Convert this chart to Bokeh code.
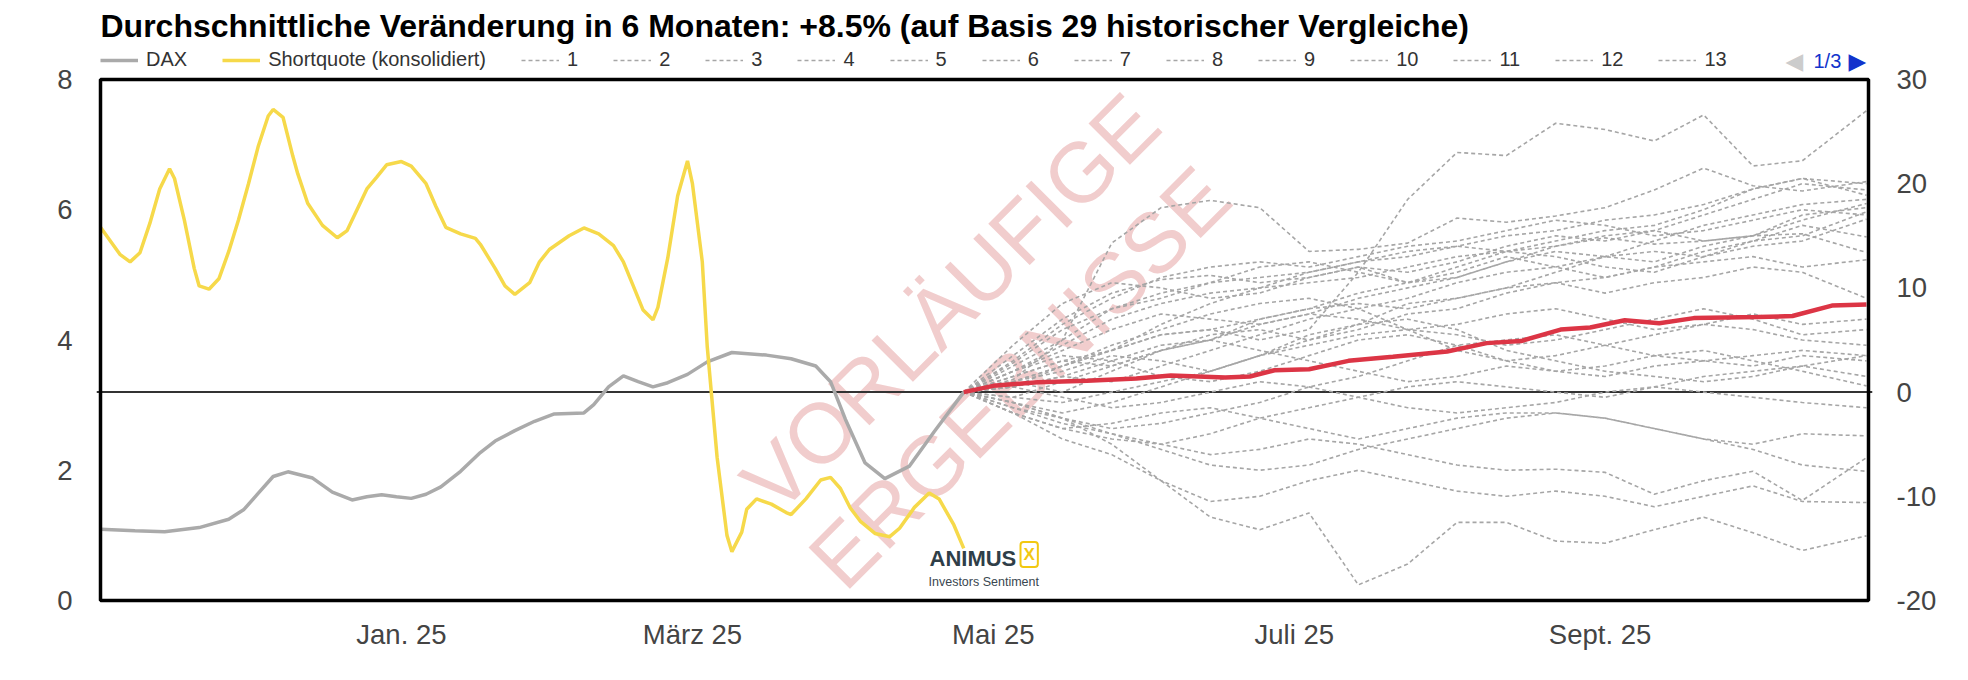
import pandas as pd
from bokeh.plotting import figure
from bokeh.models import (Range1d, LinearAxis, FixedTicker, Legend, LegendItem, Label,
                          Span, BoxAnnotation)
from bokeh.embed import file_html
from bokeh.resources import INLINE

title_text = "Durchschnittliche Veränderung in 6 Monaten: +8.5% (auf Basis 29 historischer Vergleiche)"

# Shortquote (konsolidiert) -- left axis
sq_dates = ["2024-11-01", "2024-11-03", "2024-11-05", "2024-11-07", "2024-11-09", "2024-11-11",
            "2024-11-13", "2024-11-15", "2024-11-16", "2024-11-18", "2024-11-20", "2024-11-21",
            "2024-11-23", "2024-11-25", "2024-11-27", "2024-11-29", "2024-12-01", "2024-12-03",
            "2024-12-05", "2024-12-06", "2024-12-08", "2024-12-10", "2024-12-11", "2024-12-13",
            "2024-12-16", "2024-12-19", "2024-12-21", "2024-12-23", "2024-12-25", "2024-12-27",
            "2024-12-29", "2025-01-01", "2025-01-03", "2025-01-06", "2025-01-08", "2025-01-10",
            "2025-01-13", "2025-01-16", "2025-01-17", "2025-01-20", "2025-01-22", "2025-01-24",
            "2025-01-27", "2025-01-29", "2025-01-31", "2025-02-04", "2025-02-07", "2025-02-10",
            "2025-02-13", "2025-02-15", "2025-02-17", "2025-02-19", "2025-02-21", "2025-02-22",
            "2025-02-24", "2025-02-26", "2025-02-28", "2025-03-01", "2025-03-03", "2025-03-04",
            "2025-03-06", "2025-03-08", "2025-03-09", "2025-03-11", "2025-03-12", "2025-03-14",
            "2025-03-17", "2025-03-20", "2025-03-21", "2025-03-24", "2025-03-27", "2025-03-29",
            "2025-03-31", "2025-04-02", "2025-04-04", "2025-04-07", "2025-04-10", "2025-04-12",
            "2025-04-15", "2025-04-18", "2025-04-20", "2025-04-23", "2025-04-25"]
sq_values = [5.73, 5.52, 5.31, 5.2, 5.34, 5.79,
             6.32, 6.63, 6.48, 5.84, 5.1, 4.83,
             4.78, 4.94, 5.36, 5.85, 6.4, 6.98,
             7.44, 7.54, 7.42, 6.82, 6.55, 6.1,
             5.76, 5.57, 5.68, 6.0, 6.32, 6.5,
             6.69, 6.74, 6.67, 6.4, 6.05, 5.73,
             5.63, 5.56, 5.47, 5.1, 4.83, 4.7,
             4.88, 5.2, 5.39, 5.6, 5.72, 5.63,
             5.45, 5.2, 4.83, 4.46, 4.31, 4.5,
             5.26, 6.21, 6.75, 6.4, 5.2, 3.9,
             2.2, 1.0, 0.75, 1.05, 1.4, 1.56,
             1.48, 1.35, 1.32, 1.56, 1.85, 1.89,
             1.72, 1.42, 1.22, 1.03, 0.98, 1.11,
             1.43, 1.65, 1.56, 1.16, 0.8]

# DAX -- right axis (%)
dax_dates = ["2024-11-01", "2024-11-08", "2024-11-14", "2024-11-21", "2024-11-27", "2024-11-30",
             "2024-12-03", "2024-12-06", "2024-12-09", "2024-12-14", "2024-12-18", "2024-12-22",
             "2024-12-25", "2024-12-28", "2024-12-31", "2025-01-03", "2025-01-06", "2025-01-09",
             "2025-01-13", "2025-01-17", "2025-01-20", "2025-01-24", "2025-01-28", "2025-02-01",
             "2025-02-07", "2025-02-09", "2025-02-12", "2025-02-15", "2025-02-18", "2025-02-21",
             "2025-02-24", "2025-02-28", "2025-03-04", "2025-03-09", "2025-03-16", "2025-03-21",
             "2025-03-26", "2025-03-29", "2025-04-01", "2025-04-05", "2025-04-09", "2025-04-14",
             "2025-04-19", "2025-04-25"]
dax_values = [-13.16, -13.3, -13.4, -13.0, -12.2, -11.3,
              -9.7, -8.1, -7.65, -8.25, -9.6, -10.35,
              -10.05, -9.85, -10.05, -10.2, -9.8, -9.1,
              -7.6, -5.8, -4.7, -3.7, -2.8, -2.1,
              -2.0, -1.2, 0.5, 1.55, 1.0, 0.5,
              0.9, 1.7, 2.9, 3.8, 3.55, 3.2,
              2.5, 1.0, -2.6, -6.8, -8.3, -7.1,
              -3.8, 0.0]

# average of the historical comparisons -- right axis (%)
avg_dates = ["2025-04-25", "2025-05-01", "2025-05-10", "2025-05-20", "2025-05-30", "2025-06-06",
             "2025-06-17", "2025-06-22", "2025-06-27", "2025-07-04", "2025-07-12", "2025-07-21",
             "2025-08-01", "2025-08-09", "2025-08-16", "2025-08-24", "2025-08-30", "2025-09-06",
             "2025-09-13", "2025-09-20", "2025-10-03", "2025-10-10", "2025-10-18", "2025-10-25"]
avg_values = [0.0, 0.6, 0.95, 1.1, 1.3, 1.6,
              1.4, 1.5, 2.1, 2.2, 3.0, 3.4,
              3.9, 4.7, 4.9, 6.0, 6.2, 6.9,
              6.6, 7.1, 7.2, 7.3, 8.3, 8.4]

# 29 historical comparisons -- right axis (%)
proj_dates = ["2025-04-25", "2025-05-05", "2025-05-15", "2025-05-25", "2025-06-04", "2025-06-14",
              "2025-06-24", "2025-07-04", "2025-07-14", "2025-07-24", "2025-08-03", "2025-08-13",
              "2025-08-23", "2025-09-02", "2025-09-12", "2025-09-22", "2025-10-02", "2025-10-12",
              "2025-10-25"]
proj_values = [
    [0, 1.5, 3.0, 4.0, 5.5, 6.0, 5.0, 6.0, 11.5, 18.5, 23.0, 22.7, 25.8, 25.2, 24.1, 26.6, 21.7, 22.2, 27.0],
    [0, 1.2, 5.0, 14.3, 17.7, 18.4, 17.7, 13.5, 13.7, 14.3, 16.7, 16.3, 16.9, 17.7, 19.4, 21.5, 19.8, 19.3, 20.2],
    [0, 2.5, 5.0, 8.0, 9.5, 10.5, 11.0, 11.5, 12.5, 13.0, 14.0, 15.0, 15.5, 16.5, 17.0, 18.0, 19.5, 20.5, 20.0],
    [0, 3.5, 7.0, 9.5, 10.8, 11.2, 10.5, 11.0, 12.0, 11.5, 12.5, 14.0, 15.0, 14.5, 15.5, 17.0, 18.5, 20.0, 19.4],
    [0, 1.0, 2.5, 4.0, 6.5, 8.5, 10.0, 11.5, 12.5, 13.5, 14.0, 13.5, 14.5, 15.5, 16.0, 17.5, 19.5, 20.5, 18.9],
    [0, 4.5, 8.5, 10.5, 10.0, 9.0, 9.5, 11.0, 12.0, 10.5, 11.0, 12.5, 13.5, 13.0, 12.5, 14.0, 15.0, 16.5, 18.1],
    [0, 2.0, 4.0, 6.0, 7.5, 7.0, 6.5, 7.5, 9.0, 10.0, 11.0, 12.5, 14.0, 15.0, 15.5, 14.5, 15.0, 17.0, 17.7],
    [0, -0.5, 1.0, 2.5, 4.0, 5.0, 7.0, 8.0, 9.5, 10.5, 12.0, 13.5, 13.0, 12.0, 11.5, 13.0, 14.5, 15.0, 17.3],
    [0, 1.0, 2.0, 3.5, 3.0, 2.0, 3.5, 5.0, 6.5, 8.5, 9.0, 10.0, 11.5, 13.0, 13.5, 13.0, 14.0, 14.5, 16.6],
    [0, 2.0, 4.5, 7.0, 8.5, 9.5, 10.0, 10.5, 11.0, 12.0, 13.0, 13.5, 14.0, 14.8, 14.2, 14.5, 15.0, 15.2, 13.4],
    [0, 0.5, 2.5, 4.0, 5.5, 6.0, 7.0, 8.0, 8.5, 8.0, 9.0, 10.0, 10.5, 11.0, 12.0, 12.5, 13.0, 12.0, 12.7],
    [0, 2.8, 6.0, 8.0, 9.0, 10.5, 12.0, 12.5, 11.5, 10.5, 11.5, 13.0, 12.0, 11.0, 12.0, 13.5, 14.5, 16.0, 14.9],
    [0, 1.5, 3.0, 2.5, 4.0, 5.5, 6.0, 5.0, 6.0, 7.5, 8.0, 9.5, 10.5, 9.5, 10.5, 11.0, 12.0, 11.5, 9.0],
    [0, 1.0, 0.0, 2.0, 4.0, 5.0, 6.5, 7.5, 7.0, 6.0, 6.5, 7.5, 8.0, 7.0, 6.0, 6.5, 7.5, 6.5, 7.0],
    [0, -1.0, -2.0, -1.0, 0.5, 2.0, 3.5, 4.5, 5.5, 6.0, 5.5, 4.5, 5.0, 6.0, 7.0, 8.0, 7.0, 5.5, 6.0],
    [0, 2.0, 3.5, 3.0, 1.5, 1.0, 2.0, 3.5, 5.0, 5.5, 4.5, 3.0, 3.5, 4.5, 5.5, 6.5, 6.0, 5.0, 4.5],
    [0, -1.5, -2.5, -3.5, -3.0, -2.0, -1.0, 0.5, 1.5, 3.0, 4.5, 5.0, 5.5, 4.5, 3.5, 3.0, 3.5, 4.0, 3.5],
    [0, 0.5, 1.5, 3.0, 4.5, 5.0, 4.0, 3.0, 2.0, 1.0, 1.5, 2.5, 2.0, 1.5, 2.5, 3.0, 2.5, 3.5, 3.0],
    [0, -2.0, -3.5, -4.5, -5.0, -4.0, -2.5, -1.5, -0.5, 0.5, 1.0, 0.5, 0.0, -0.5, 0.5, 1.5, 2.0, 2.5, 1.5],
    [0, 1.0, 2.5, 4.5, 6.0, 7.5, 8.5, 9.0, 8.0, 6.0, 4.0, 3.0, 2.0, 2.5, 3.5, 4.0, 3.0, 2.0, 0.6],
    [0, -0.5, -1.0, 0.0, 1.0, 2.0, 3.5, 5.5, 6.5, 7.0, 6.0, 4.0, 3.0, 2.0, 1.5, 1.0, 1.5, 2.5, 3.5],
    [0, 0.5, 1.5, 1.0, 2.5, 4.0, 5.5, 7.0, 8.0, 9.0, 10.5, 11.5, 12.0, 13.0, 14.5, 16.0, 17.0, 18.0, 18.5],
    [0, 3.0, 6.5, 9.0, 11.0, 12.0, 12.5, 12.0, 13.0, 14.0, 14.5, 15.5, 16.5, 16.0, 15.0, 15.5, 16.5, 17.5, 17.0],
    [0, 0.5, -0.5, -1.5, -1.0, 0.0, 1.0, 0.5, -0.5, -1.5, -2.0, -1.5, -1.0, 0.0, 0.5, 0.0, -0.5, -1.0, -1.5],
    [0, -1.5, -3.0, -4.0, -5.5, -7.0, -7.5, -7.0, -5.5, -4.5, -3.5, -2.5, -2.0, -2.5, -3.5, -4.5, -5.0, -4.0, -4.2],
    [0, -1.0, -2.5, -4.0, -5.0, -6.0, -5.5, -4.5, -5.0, -6.0, -7.0, -7.5, -7.4, -7.7, -9.8, -8.5, -7.6, -10.4, -6.3],
    [0, -2.0, -3.5, -3.0, -2.0, -1.5, -2.5, -3.5, -4.5, -3.5, -2.5, -2.0, -2.0, -2.5, -3.5, -4.5, -5.5, -7.0, -7.6],
    [0, -1.0, -2.5, -5.0, -8.5, -10.5, -10.0, -8.5, -7.5, -8.5, -9.5, -10.0, -9.5, -10.0, -11.0, -10.0, -9.0, -10.5, -10.6],
    [0, -2.0, -4.5, -6.0, -8.5, -12.0, -13.2, -11.6, -18.5, -16.5, -12.5, -12.5, -14.3, -14.5, -13.2, -12.0, -13.5, -15.2, -13.8],
]
proj_legend_labels = [str(i) for i in range(1, 14)]

x_tick_dates = ["2025-01-01", "2025-03-01", "2025-05-01", "2025-07-01", "2025-09-01"]
x_tick_labels = ["Jan. 25", "März 25", "Mai 25", "Juli 25", "Sept. 25"]
left_ticks = [0, 2, 4, 6, 8]
right_ticks = [-20, -10, 0, 10, 20, 30]
right_tick_labels = ["-20", "-10", "0", "10", "20", "30"]
x_start, x_end = "2024-11-01", "2025-10-25 10:00"
left_lo, left_hi = 0, 8
right_lo, right_hi = -20, 30

# ---- geometry (page pixels) ----
W, H = 1968, 680
BOX_L, BOX_R, BOX_T, BOX_B = 100, 1868, 79, 600      # visible plot box
PAD = 4                                               # frame padding around the box
FR_L, FR_R, FR_T, FR_B = BOX_L - PAD, BOX_R + PAD, 0, BOX_B + PAD

FONT = "Liberation Sans"
AXIS_COLOR = "#444444"

xs_ms = pd.Timestamp(x_start).value / 1e6
xe_ms = pd.Timestamp(x_end).value / 1e6
ms_per_px = (xe_ms - xs_ms) / (BOX_R - BOX_L)
lpx = (left_hi - left_lo) / (BOX_B - BOX_T)
rpx = (right_hi - right_lo) / (BOX_B - BOX_T)

p = figure(width=W, height=H, x_axis_type="datetime",
           x_range=Range1d(xs_ms - PAD * ms_per_px, xe_ms + PAD * ms_per_px),
           y_range=Range1d(left_lo - PAD * lpx, left_hi + BOX_T * lpx),
           output_backend="svg", toolbar_location=None, title=None,
           min_border_left=FR_L, min_border_right=W - FR_R,
           min_border_top=FR_T, min_border_bottom=H - FR_B)
p.extra_y_ranges = {"pct": Range1d(right_lo - PAD * rpx, right_hi + BOX_T * rpx)}
p.background_fill_color = "white"
p.border_fill_color = "white"
p.outline_line_color = None
p.xgrid.visible = False
p.ygrid.visible = False

right_axis = LinearAxis(y_range_name="pct")
p.add_layout(right_axis, "right")

for ax in [p.xaxis[0], p.yaxis[0], right_axis]:
    ax.axis_line_color = None
    ax.major_tick_line_color = None
    ax.minor_tick_line_color = None
    ax.major_tick_out = 0
    ax.major_tick_in = 0
    ax.major_label_text_font = FONT
    ax.major_label_text_font_size = "27.5px"
    ax.major_label_text_color = AXIS_COLOR

p.yaxis[0].ticker = FixedTicker(ticks=left_ticks)
p.yaxis[0].major_label_standoff = 28 - PAD
right_axis.ticker = FixedTicker(ticks=right_ticks)
right_axis.major_label_overrides = {t: l for t, l in zip(right_ticks, right_tick_labels)}
right_axis.major_label_standoff = 28 - PAD

tick_ms = [float(pd.Timestamp(d).value // 10**6) for d in x_tick_dates]
p.xaxis[0].ticker = FixedTicker(ticks=tick_ms)
p.xaxis[0].major_label_overrides = {t: l for t, l in zip(tick_ms, x_tick_labels)}
p.xaxis[0].major_label_standoff = 14


def fx(page_x):
    return page_x - FR_L


def fy(page_y):
    return FR_B - page_y


# watermark
for txt, px, py in [("VORLÄUFIGE", 950, 302), ("ERGEBNISSE", 1019, 377)]:
    p.add_layout(Label(x=fx(px), y=fy(py), x_units="screen", y_units="screen", text=txt,
                       angle=45, angle_units="deg", text_align="center", text_baseline="middle",
                       text_font=FONT, text_font_size="85px", text_color="#f1cdcd",
                       level="underlay"))

zero_line = Span(location=0, dimension="width", y_range_name="pct",
                 line_color="#333333", line_width=2, level="underlay")
p.add_layout(zero_line)

# series
proj_x = pd.to_datetime(proj_dates)
proj_renderers = []
for vals in proj_values:
    r = p.line(proj_x, vals, y_range_name="pct", line_color="#a6a6a6",
               line_width=1.6, line_dash="4 3")
    proj_renderers.append(r)

dax_r = p.line(pd.to_datetime(dax_dates), dax_values, y_range_name="pct",
               line_color="#aaaaaa", line_width=3.5)
sq_r = p.line(pd.to_datetime(sq_dates), sq_values, line_color="#f6d94a", line_width=3.5)
avg_r = p.line(pd.to_datetime(avg_dates), avg_values, y_range_name="pct",
               line_color="#dc3545", line_width=4.5)

# visible plot box
p.add_layout(BoxAnnotation(left=xs_ms, right=xe_ms, bottom=left_lo, top=left_hi,
                           fill_alpha=0, line_color="black", line_width=3.5, line_alpha=1))

# title
p.add_layout(Label(x=fx(BOX_L), y=fy(25), x_units="screen", y_units="screen", text=title_text,
                   text_font=FONT, text_font_size="32px", text_font_style="bold",
                   text_color="black", text_baseline="middle"))

# legend (page 1/3)
items = [LegendItem(label="DAX", renderers=[dax_r]),
         LegendItem(label="Shortquote (konsolidiert)", renderers=[sq_r])]
for lbl, r in zip(proj_legend_labels, proj_renderers):
    items.append(LegendItem(label=lbl, renderers=[r]))
legend = Legend(items=items, orientation="horizontal", location=(fx(BOX_L), fy(71)),
                glyph_width=38, glyph_height=20, label_standoff=8, spacing=35,
                label_width=0, padding=0, margin=0, border_line_color=None,
                background_fill_alpha=0,
                label_text_font=FONT, label_text_font_size="20px", label_text_color="#333333")
p.add_layout(legend)

# legend navigation
nav_y = fy(60)
p.add_layout(Label(x=fx(1785), y=nav_y, x_units="screen", y_units="screen", text="◀",
                   text_font="DejaVu Sans", text_font_size="23px", text_color="#cccccc",
                   text_baseline="middle"))
p.add_layout(Label(x=fx(1813), y=nav_y, x_units="screen", y_units="screen", text="1/3",
                   text_font=FONT, text_font_size="20px", text_color="#1133cc",
                   text_baseline="middle"))
p.add_layout(Label(x=fx(1848), y=nav_y, x_units="screen", y_units="screen", text="▶",
                   text_font="DejaVu Sans", text_font_size="23px", text_color="#1133cc",
                   text_baseline="middle"))

# logo
p.add_layout(Label(x=fx(929), y=fy(558), x_units="screen", y_units="screen", text="ANIMUS",
                   text_font=FONT, text_font_size="22px", text_font_style="bold",
                   text_color="#2f3e48", text_baseline="middle"))
p.add_layout(Label(x=fx(1020), y=fy(554), x_units="screen", y_units="screen", text="X",
                   text_font=FONT, text_font_size="17px", text_font_style="bold",
                   text_color="#f2c811", text_baseline="middle",
                   border_line_color="#f2c811", border_line_width=2, padding=3,
                   border_radius=3))
p.add_layout(Label(x=fx(928), y=fy(581), x_units="screen", y_units="screen",
                   text="Investors Sentiment", text_font=FONT, text_font_size="12.5px",
                   text_color="#3a4750", text_baseline="middle"))

open("out.html", "w").write(file_html(p, INLINE))
